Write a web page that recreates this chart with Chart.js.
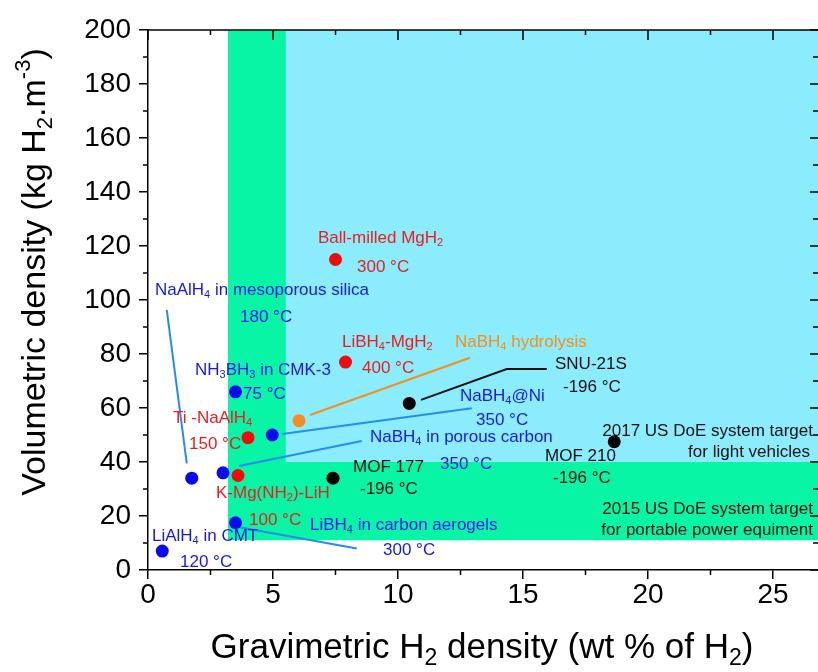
<!DOCTYPE html>
<html>
<head>
<meta charset="utf-8">
<script src="https://cdn.jsdelivr.net/npm/chart.js@4.4.0/dist/chart.umd.min.js"></script>
<style>
  body { margin: 0; background: #fff; }
  #chart { display: block; }
</style>
</head>
<body>
<canvas id="chart" width="818" height="672"></canvas>
<script>
// data (wt % H2, kg H2/m3)
const redX = [7.5, 7.9, 4.0, 3.6];
const redY = [115, 77, 49, 35];
const blueX = [0.57, 1.75, 3.0, 3.5, 3.5, 4.97];
const blueY = [7, 34, 36, 17.5, 66, 50];
const blackX = [7.4, 10.45, 18.65];
const blackY = [34, 61.7, 47.5];
const orangeX = [6.04];
const orangeY = [55.3];

// DoE targets (shaded regions): [gravimetric, volumetric]
const target2015 = [3.2, 11];
const target2017 = [5.5, 40];

const xTicks = [0, 5, 10, 15, 20, 25];
const yTicks = [0, 20, 40, 60, 80, 100, 120, 140, 160, 180, 200];
const xMax = 26.8;

// leader lines from labels to points
const leaderNaAlH4X = [0.75, 1.55], leaderNaAlH4Y = [96.3, 39.5];
const leaderPorousX = [3.64, 8.55], leaderPorousY = [38.5, 47.8];
const leaderNiX = [5.37, 12.95], leaderNiY = [50.4, 59.9];
const leaderHydroX = [6.48, 12.88], leaderHydroY = [57.4, 78.6];
const leaderSnuX = [10.92, 14.35, 15.95], leaderSnuY = [63, 74.4, 74.4];
const leaderAeroX = [3.55, 8.35], leaderAeroY = [16.0, 8.0];

const RED = 'rgb(238,28,28)';
const BLUE = 'rgb(24,24,235)';
const BLACK = '#111';
const ORANGE = 'rgb(246,142,32)';
const LEADBLUE = 'rgb(38,140,240)';
const FONT = '"Liberation Sans", Arial, sans-serif';

// labels: text (_ sub, ^ sup), x, y, colour, align
const labels = [
  ['Ball-milled MgH_2', 6.8, 123, RED, 'left'],
  ['300 °C', 8.36, 112.2, RED, 'left'],
  ['NaAlH_4 in mesoporous silica', 0.28, 103.7, BLUE, 'left'],
  ['180 °C', 3.68, 93.7, BLUE, 'left'],
  ['LiBH_4-MgH_2', 7.76, 84.4, RED, 'left'],
  ['400 °C', 8.56, 74.8, RED, 'left'],
  ['NaBH_4 hydrolysis', 12.28, 84.4, ORANGE, 'left'],
  ['SNU-21S', 16.28, 76.3, BLACK, 'left'],
  ['-196 °C', 16.6, 67.8, BLACK, 'left'],
  ['NH_3BH_3 in CMK-3', 1.88, 74, BLUE, 'left'],
  ['75 °C', 3.8, 65.2, BLUE, 'left'],
  ['NaBH_4@Ni', 12.48, 64.4, BLUE, 'left'],
  ['350 °C', 13.12, 55.6, BLUE, 'left'],
  ['Ti -NaAlH_4', 1.0, 56.3, RED, 'left'],
  ['150 °C', 1.64, 46.7, RED, 'left'],
  ['NaBH_4 in porous carbon', 8.88, 49.3, BLUE, 'left'],
  ['350 °C', 11.68, 39.3, BLUE, 'left'],
  ['2017 US DoE system target', 26.6, 51.5, BLACK, 'right'],
  ['for light vehicles', 26.48, 43.7, BLACK, 'right'],
  ['MOF 210', 15.88, 42.2, BLACK, 'left'],
  ['-196 °C', 16.2, 34.1, BLACK, 'left'],
  ['MOF 177', 8.2, 38.1, BLACK, 'left'],
  ['-196 °C', 8.48, 30, BLACK, 'left'],
  ['K-Mg(NH_2)-LiH', 2.72, 28.5, RED, 'left'],
  ['100 °C', 4.04, 18.5, RED, 'left'],
  ['LiBH_4 in carbon aerogels', 6.48, 16.7, BLUE, 'left'],
  ['300 °C', 9.4, 7.4, BLUE, 'left'],
  ['LiAlH_4 in CMT', 0.16, 12.6, BLUE, 'left'],
  ['120 °C', 1.28, 3.0, BLUE, 'left'],
  ['2015 US DoE system target', 26.6, 22.6, BLACK, 'right'],
  ['for portable power equiment', 26.6, 14.8, BLACK, 'right']
];

const zip = (xs, ys) => xs.map((x, i) => ({ x: x, y: ys[i] }));

// split "H_2" / "m^{-3}" into normal, sub and sup pieces
function parseRich(str) {
  const out = [];
  let buf = '';
  for (let i = 0; i < str.length; i++) {
    const c = str[i];
    if (c === '_' || c === '^') {
      if (buf) { out.push({ t: buf, m: 0 }); buf = ''; }
      let t;
      if (str[i + 1] === '{') {
        const end = str.indexOf('}', i);
        t = str.slice(i + 2, end);
        i = end;
      } else {
        t = str[i + 1];
        i++;
      }
      out.push({ t: t, m: c === '_' ? 1 : 2 });
    } else {
      buf += c;
    }
  }
  if (buf) out.push({ t: buf, m: 0 });
  return out;
}

function drawRich(ctx, str, x, y, size, align) {
  const parts = parseRich(str);
  const small = Math.round(size * 0.65);
  let w = 0;
  parts.forEach(p => {
    ctx.font = (p.m ? small : size) + 'px ' + FONT;
    p.w = ctx.measureText(p.t).width;
    w += p.w;
  });
  let cx = align === 'right' ? x - w : (align === 'center' ? x - w / 2 : x);
  ctx.textAlign = 'left';
  ctx.textBaseline = 'middle';
  parts.forEach(p => {
    ctx.font = (p.m ? small : size) + 'px ' + FONT;
    let dy = 0;
    if (p.m === 1) dy = size * 0.3;
    if (p.m === 2) dy = -size * 0.35;
    ctx.fillText(p.t, cx, y + dy);
    cx += p.w;
  });
}

const extras = {
  id: 'extras',
  afterDatasetsDraw(chart) {
    const ctx = chart.ctx;
    const xs = chart.scales.x, ys = chart.scales.y;
    ctx.save();
    labels.forEach(l => {
      ctx.fillStyle = l[3];
      drawRich(ctx, l[0], xs.getPixelForValue(l[1]), ys.getPixelForValue(l[2]), 17, l[4]);
    });
    ctx.restore();
  },
  afterDraw(chart) {
    const ctx = chart.ctx;
    const a = chart.chartArea;
    const xs = chart.scales.x, ys = chart.scales.y;
    ctx.save();
    ctx.strokeStyle = '#000';
    ctx.lineWidth = 1.5;
    // top frame line
    ctx.beginPath();
    ctx.moveTo(a.left, a.top);
    ctx.lineTo(a.right, a.top);
    ctx.stroke();
    ctx.beginPath();
    // minor ticks outside, plus inward ticks on top and right
    for (let v = 0; v <= xMax; v += 2.5) {
      const px = xs.getPixelForValue(v);
      const major = v % 5 === 0;
      if (!major) { ctx.moveTo(px, a.bottom); ctx.lineTo(px, a.bottom + 5); }
      ctx.moveTo(px, a.top); ctx.lineTo(px, a.top + (major ? 10 : 5));
    }
    for (let v = 0; v <= 200; v += 10) {
      const py = ys.getPixelForValue(v);
      const major = v % 20 === 0;
      if (!major) { ctx.moveTo(a.left, py); ctx.lineTo(a.left - 5, py); }
      ctx.moveTo(a.right, py); ctx.lineTo(a.right - (major ? 8 : 5), py);
    }
    ctx.stroke();
    // axis titles
    ctx.fillStyle = '#000';
    drawRich(ctx, 'Gravimetric H_2 density (wt % of H_2)', 482, 648, 35, 'center');
    ctx.translate(36, 272);
    ctx.rotate(-Math.PI / 2);
    drawRich(ctx, 'Volumetric density (kg H_2.m^{-3})', 0, 0, 34, 'center');
    ctx.restore();
  }
};

const lineDs = (xs, ys, color) => ({
  type: 'line',
  data: zip(xs, ys),
  borderColor: color,
  borderWidth: 2,
  pointRadius: 0,
  fill: false,
  order: 2
});

const dotDs = (xs, ys, color) => ({
  type: 'scatter',
  data: zip(xs, ys),
  backgroundColor: color,
  borderWidth: 0,
  pointRadius: 6.5,
  order: 1
});

new Chart(document.getElementById('chart'), {
  type: 'scatter',
  data: {
    datasets: [
      {
        type: 'line',
        data: [{ x: target2015[0], y: target2015[1] }, { x: xMax, y: target2015[1] }],
        backgroundColor: 'rgb(8,245,165)',
        borderWidth: 0,
        pointRadius: 0,
        fill: 'end',
        order: 4
      },
      {
        type: 'line',
        data: [{ x: target2017[0], y: target2017[1] }, { x: xMax, y: target2017[1] }],
        backgroundColor: 'rgb(139,236,253)',
        borderWidth: 0,
        pointRadius: 0,
        fill: 'end',
        order: 3
      },
      lineDs(leaderNaAlH4X, leaderNaAlH4Y, LEADBLUE),
      lineDs(leaderPorousX, leaderPorousY, LEADBLUE),
      lineDs(leaderNiX, leaderNiY, LEADBLUE),
      lineDs(leaderAeroX, leaderAeroY, LEADBLUE),
      lineDs(leaderHydroX, leaderHydroY, ORANGE),
      lineDs(leaderSnuX, leaderSnuY, BLACK),
      dotDs(redX, redY, 'rgb(240,10,10)'),
      dotDs(blueX, blueY, 'rgb(10,10,240)'),
      dotDs(blackX, blackY, '#000'),
      dotDs(orangeX, orangeY, 'rgb(248,140,30)')
    ]
  },
  options: {
    responsive: false,
    animation: false,
    devicePixelRatio: 1,
    layout: { autoPadding: false, padding: { top: 30, right: 0, left: 0, bottom: 0 } },
    plugins: {
      legend: { display: false },
      tooltip: { enabled: false }
    },
    scales: {
      x: {
        type: 'linear',
        min: 0,
        max: xMax,
        afterBuildTicks: s => { s.ticks = xTicks.map(v => ({ value: v })); },
        afterFit: s => { s.height = 102; s.paddingLeft = 0; s.paddingRight = 0; },
        ticks: { color: '#000', font: { family: FONT, size: 28 }, padding: -1 },
        grid: { drawOnChartArea: false, color: '#000', lineWidth: 1.5, tickLength: 9 },
        border: { color: '#000', width: 1.5 }
      },
      y: {
        min: 0,
        max: 200,
        afterBuildTicks: s => { s.ticks = yTicks.map(v => ({ value: v })); },
        afterFit: s => { s.width = 148; },
        ticks: { color: '#000', font: { family: FONT, size: 28 }, padding: 8 },
        grid: { drawOnChartArea: false, color: '#000', lineWidth: 1.5, tickLength: 9 },
        border: { color: '#000', width: 1.5 }
      }
    }
  },
  plugins: [extras]
});
</script>
</body>
</html>
